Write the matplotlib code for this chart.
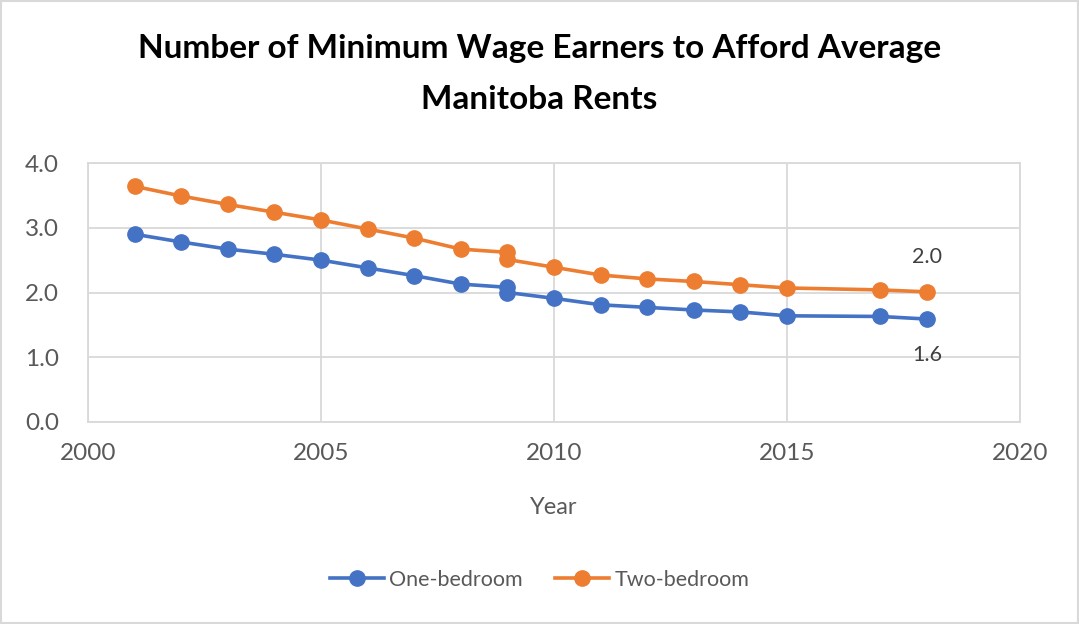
import matplotlib
matplotlib.use("Agg")
import matplotlib.pyplot as plt
from matplotlib.patches import Rectangle

plt.rcParams['font.family'] = ['Lato', 'DejaVu Sans']

years = [2001, 2002, 2003, 2004, 2005, 2006, 2007, 2008, 2009, 2009,
         2010, 2011, 2012, 2013, 2014, 2015, 2017, 2018]
one_bedroom = [2.90, 2.78, 2.67, 2.59, 2.50, 2.38, 2.26, 2.13, 2.08, 2.00,
               1.91, 1.81, 1.77, 1.73, 1.70, 1.64, 1.63, 1.59]
two_bedroom = [3.64, 3.49, 3.36, 3.24, 3.12, 2.98, 2.84, 2.67, 2.62, 2.51,
               2.39, 2.27, 2.21, 2.17, 2.12, 2.07, 2.04, 2.01]
series_names = ["One-bedroom", "Two-bedroom"]
title = "Number of Minimum Wage Earners to Afford Average\nManitoba Rents"
x_ticks = [2000, 2005, 2010, 2015, 2020]
y_ticks = [0.0, 1.0, 2.0, 3.0, 4.0]

BLUE = "#4472C4"
ORANGE = "#ED7D31"
GRID = "#D9D9D9"
TXT = "#595959"

fig = plt.figure(figsize=(10.79, 6.24), dpi=100)
ax = fig.add_axes([88/1079, 1-422/624, (1020-88)/1079, (422-163)/624])

ax.plot(years, one_bedroom, color=BLUE, lw=2.6, marker='o', ms=11, label=series_names[0], zorder=3)
ax.plot(years, two_bedroom, color=ORANGE, lw=2.6, marker='o', ms=11, label=series_names[1], zorder=3)

ax.set_xlim(2000, 2020)
ax.set_ylim(0, 4)
ax.set_xticks(x_ticks)
ax.set_yticks(y_ticks)
ax.set_yticklabels([f"{v:.1f}" for v in y_ticks])
ax.grid(True, color=GRID, lw=1.3)
ax.set_axisbelow(True)
for s in ax.spines.values():
    s.set_color(GRID)
    s.set_linewidth(1.3)
ax.tick_params(length=0, labelsize=17.5, colors=TXT)
ax.tick_params(axis='y', pad=21)
ax.tick_params(axis='x', pad=15)
ax.set_xlabel("Year", fontsize=17, color=TXT, labelpad=24)

ax.annotate(f"{two_bedroom[-1]:.1f}", (years[-1], two_bedroom[-1]), xytext=(0, 25),
            textcoords='offset points', ha='center', va='center', fontsize=15.5, color="#404040")
ax.annotate(f"{one_bedroom[-1]:.1f}", (years[-1], one_bedroom[-1]), xytext=(0, -26),
            textcoords='offset points', ha='center', va='center', fontsize=15.5, color="#404040")

fig.text(0.5, 1-74/624, title, ha='center', va='center', fontsize=24, fontweight='bold',
         linespacing=1.88, color='black')

fig.legend(loc='center', bbox_to_anchor=(0.5, 1-580/624), ncol=2, frameon=False,
           fontsize=15.5, labelcolor=TXT, handlelength=2.5, columnspacing=1.5, handletextpad=0.25)

fig.add_artist(Rectangle((0.001, 0.001), 0.998, 0.997, transform=fig.transFigure,
                         fill=False, edgecolor=GRID, lw=1.5))

fig.savefig("out.png", dpi=100)
